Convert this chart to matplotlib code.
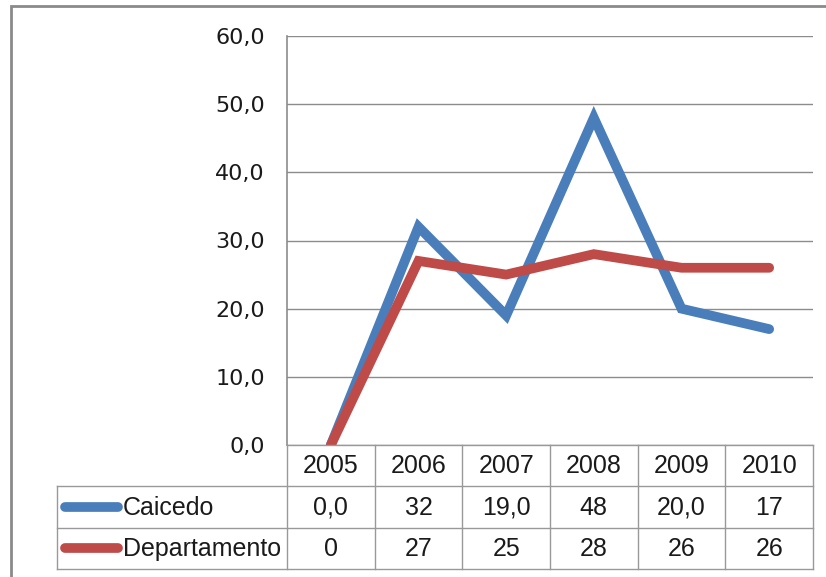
import matplotlib.pyplot as plt
from matplotlib.patches import Rectangle

years = ['2005', '2006', '2007', '2008', '2009', '2010']
caicedo = [0.0, 32, 19.0, 48, 20.0, 17]
departamento = [0, 27, 25, 28, 26, 26]
caicedo_txt = ['0,0', '32', '19,0', '48', '20,0', '17']
departamento_txt = ['0', '27', '25', '28', '26', '26']
series_names = ['Caicedo', 'Departamento']
yticks = [0, 10, 20, 30, 40, 50, 60]

blue = '#4a7ebb'
red = '#be4b48'
grid = '#8c8c8c'

W, H = 826, 577
fig = plt.figure(figsize=(W / 100, H / 100), dpi=100)

# outer chart border (only top/left visible in the crop)
fig.add_artist(Rectangle((11 / W, -0.1), 2, 1 - 6 / H + 0.1, transform=fig.transFigure,
                         fill=False, edgecolor='#8a8a8a', linewidth=2))

x0, x1 = 287, 813
ytop, ybot = 36, 445
ax = fig.add_axes([x0 / W, 1 - ybot / H, (x1 - x0) / W, (ybot - ytop) / H])
xs = range(len(years))
lw = 7
ax.plot(xs, caicedo, color=blue, linewidth=lw, solid_capstyle='round', solid_joinstyle='miter', zorder=3)
ax.plot(xs, departamento, color=red, linewidth=lw, solid_capstyle='round', solid_joinstyle='miter', zorder=4)
ax.set_xlim(-0.5, len(years) - 0.5)
ax.set_ylim(0, 60)
ax.set_yticks(yticks)
ax.set_yticklabels(['%d,0' % v for v in yticks], fontsize=16, color='#1a1a1a')
ax.tick_params(axis='y', length=0, pad=16)
ax.set_xticks([])
for v in yticks:
    ax.axhline(v, color=grid, linewidth=1, zorder=1)
for s in ['top', 'right', 'bottom']:
    ax.spines[s].set_visible(False)
ax.spines['left'].set_color(grid)
ax.spines['left'].set_linewidth(1.2)

# data table below the plot
tl = 57
colw = (x1 - x0) / len(years)
extra = (x0 - tl) / colw
tbot = 569
tax = fig.add_axes([tl / W, 1 - tbot / H, (x1 - tl) / W, (tbot - ybot) / H])
tax.set_xlim(-0.5 - extra, len(years) - 0.5)
tax.set_ylim(3, 0)
tax.axis('off')
tf = 'Liberation Sans'
lc = '#999999'
# horizontal lines
tax.plot([-0.5, len(years) - 0.5], [0, 0], color=lc, lw=1, clip_on=False)
for r in [1, 2, 3]:
    tax.plot([-0.5 - extra, len(years) - 0.5], [r, r], color=lc, lw=1, clip_on=False)
# vertical lines
tax.plot([-0.5 - extra, -0.5 - extra], [1, 3], color=lc, lw=1, clip_on=False)
for c in range(len(years) + 1):
    tax.plot([c - 0.5, c - 0.5], [0, 3], color=lc, lw=1, clip_on=False)

for i, y in enumerate(years):
    tax.text(i, 0.52, y, ha='center', va='center', fontsize=18, family=tf, color='#1a1a1a')
rows = [(caicedo_txt, blue), (departamento_txt, red)]
for r, (vals, col) in enumerate(rows):
    yc = r + 1.5
    for i, v in enumerate(vals):
        tax.text(i, yc + 0.02, v, ha='center', va='center', fontsize=18, family=tf, color='#1a1a1a')
    lx0 = -0.5 - extra + 4 / colw
    lx1 = -0.5 - extra + 65 / colw
    tax.plot([lx0 + 0.05, lx1 - 0.05], [yc, yc], color=col, lw=lw, solid_capstyle='round', clip_on=False)
    tax.text(lx1 + 1 / colw, yc + 0.02, series_names[r], ha='left', va='center', fontsize=18,
             family=tf, color='#1a1a1a')

fig.savefig('out.png', dpi=100)
